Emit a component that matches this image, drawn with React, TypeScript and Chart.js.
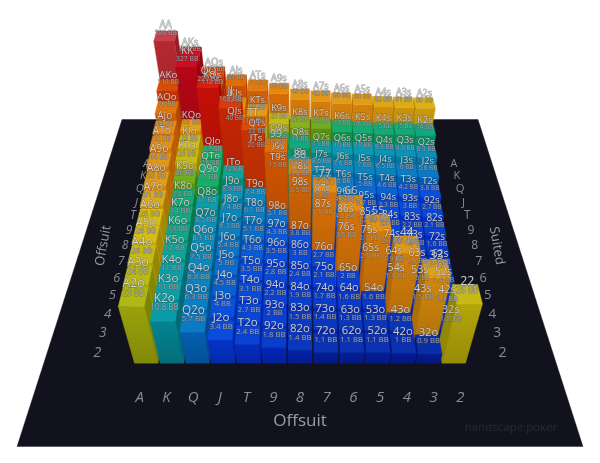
import React, { useEffect, useRef } from 'react';
import { Chart, registerables } from 'chart.js';

Chart.register(...registerables);

const RANKS = ['A', 'K', 'Q', 'J', 'T', '9', '8', '7', '6', '5', '4', '3', '2'];

// big blinds per hand, row = back to front, col = left to right
const ROW_A = [588, 300, 127, 89, 70, 60, 46, 42, 38, 36, 32, 31, 30];
const ROW_K = [118, 327, 118, 52, 38, 25, 21, 20, 17, 16, 15, 15, 14];
const ROW_Q = [76, 33, 229, 40, 22, 17, 14, 11, 10, 10, 9.3, 8.9, 8.3];
const ROW_J = [56, 28, 17, 168, 20, 13, 9.5, 8.6, 7.6, 7, 6.5, 6, 5.6];
const ROW_T = [52, 26, 16, 12, 118, 15, 9.5, 7.3, 6, 5, 4.6, 4.2, 3.8];
const ROW_9 = [44, 20, 17, 8.9, 7.4, 86, 8.5, 6, 4.9, 3.7, 3.3, 3, 2.7];
const ROW_8 = [36, 15, 11, 7.4, 6.1, 5.1, 66, 5.5, 4.2, 3.2, 2.6, 2.2, 2.1];
const ROW_7 = [31, 14, 8.5, 6.3, 5.1, 4.3, 3.8, 57, 3.5, 2.7, 2.1, 1.8, 1.6];
const ROW_6 = [28, 13, 8.1, 5.4, 4.3, 3.5, 3, 2.7, 53, 2.5, 1.9, 1.6, 1.4];
const ROW_5 = [28, 12, 7.5, 5, 3.5, 2.8, 2.4, 2.1, 2, 48, 1.9, 1.6, 1.4];
const ROW_4 = [26, 11, 6.8, 4.5, 3.1, 2.2, 1.9, 1.7, 1.6, 1.6, 41, 1.5, 1.3];
const ROW_3 = [24, 11, 6.3, 4, 2.7, 2, 1.5, 1.4, 1.3, 1.3, 1.2, 33, 1.2];
const ROW_2 = [23, 10.8, 5.7, 3.4, 2.4, 1.8, 1.4, 1.1, 1.1, 1.1, 1, 0.9, 26];
const BB_ROWS = [ROW_A, ROW_K, ROW_Q, ROW_J, ROW_T, ROW_9, ROW_8, ROW_7, ROW_6, ROW_5, ROW_4, ROW_3, ROW_2];

// value -> colour stops
const COLOR_BB = [0.9, 2, 4, 5.7, 10, 13, 17, 20, 23, 28, 33, 57, 66, 86, 118, 168, 229, 327, 588];
const COLOR_RGB = [
  [10, 46, 168], [10, 63, 208], [10, 80, 220], [10, 122, 196], [11, 152, 180], [15, 166, 140],
  [22, 174, 106], [111, 174, 34], [176, 184, 22], [214, 188, 20], [224, 160, 24], [230, 140, 18],
  [224, 128, 16], [224, 112, 8], [216, 76, 8], [215, 60, 12], [212, 32, 16], [200, 15, 40], [200, 64, 72],
];

// camera
const SIN_P = 0.698;
const COS_P = 0.716;
const CAM_H = 22.3;
const CAM_Z = 22.17;
const CAM_D = 31.44;
const FOCAL = 687;
const CENTER_Y = 235;
const BAR_HALF = 0.46;
const FLOOR_HALF = 10;

const project = (x: number, h: number, z: number) => {
  const depth = CAM_D - h * SIN_P - z * COS_P;
  const up = (h - CAM_H) * COS_P - (z - CAM_Z) * SIN_P;
  return { u: x / depth, v: up / depth, depth };
};

const barColor = (bb: number) => {
  let i = 0;
  while (i < COLOR_BB.length - 2 && bb > COLOR_BB[i + 1]) i++;
  const t = Math.min(1, Math.max(0, (Math.log(bb) - Math.log(COLOR_BB[i])) / (Math.log(COLOR_BB[i + 1]) - Math.log(COLOR_BB[i]))));
  return COLOR_RGB[i].map((v, k) => v + (COLOR_RGB[i + 1][k] - v) * t);
};
const shade = (rgb: number[], f: number, g = 1) => `rgb(${rgb.map(v => Math.round(255 * Math.pow(v / 255, g) * f)).join(',')})`;

const handName = (r: number, c: number) => {
  if (r === c) return RANKS[r] + RANKS[c];
  return r < c ? RANKS[r] + RANKS[c] + 's' : RANKS[c] + RANKS[r] + 'o';
};

// the height axis is compressed: log-like in bb
const barHeight = (bb: number) => 1.2 * Math.log(1 + bb / 1.4);

const board3d = {
  id: 'board3d',
  beforeDatasetsDraw(chart: any) {
    const { ctx, scales } = chart;
    const px = (x: number, h: number, z: number) => {
      const p = project(x, h, z);
      return [scales.x.getPixelForValue(p.u), scales.y.getPixelForValue(p.v)];
    };
    const poly = (pts: number[][], fill: any) => {
      ctx.beginPath();
      pts.forEach((p, i) => (i ? ctx.lineTo(p[0], p[1]) : ctx.moveTo(p[0], p[1])));
      ctx.closePath();
      ctx.fillStyle = fill;
      ctx.fill();
      ctx.strokeStyle = fill;
      ctx.lineWidth = 0.4;
      ctx.stroke();
    };
    const text = (t: string, x: number, y: number, font: string, color: string, rot = 0, outline = '') => {
      ctx.save();
      ctx.translate(x, y);
      ctx.rotate(rot);
      ctx.font = font;
      ctx.textAlign = 'center';
      ctx.textBaseline = 'middle';
      if (outline) {
        ctx.strokeStyle = outline;
        ctx.lineWidth = 0.8;
        ctx.strokeText(t, 0, 0);
      }
      ctx.fillStyle = color;
      ctx.fillText(t, 0, 0);
      ctx.restore();
    };

    ctx.save();
    // floor
    poly([px(-FLOOR_HALF, 0, -FLOOR_HALF), px(FLOOR_HALF, 0, -FLOOR_HALF), px(FLOOR_HALF, 0, FLOOR_HALF), px(-FLOOR_HALF, 0, FLOOR_HALF)], '#11121e');

    // axis ticks lying on the floor
    RANKS.forEach((rank, i) => {
      const w = i - 6;
      const scale = (z: number) => FOCAL / project(0, 0, z).depth;
      const [bx, by] = px(w, 0, 8);
      text(rank, bx, by, `italic ${(scale(8) * 0.56).toFixed(1)}px "Open Sans"`, '#8a8b92');
      const [lx, ly] = px(-8, 0, w);
      text(rank, lx, ly, `italic ${(scale(w) * 0.56).toFixed(1)}px "Open Sans"`, '#8a8b92');
      const [rx, ry] = px(8, 0, w);
      text(rank, rx, ry, `${(scale(w) * 0.56).toFixed(1)}px "Open Sans"`, '#8a8b92');
    });
    const [tx, ty] = px(0, 0, 9);
    text('Offsuit', tx, ty, '17px "Open Sans"', '#9c9da3');
    const [olx, oly] = px(-9, 0, 0);
    text('Offsuit', olx, oly, '13px "Open Sans"', '#9c9da3', -80 * Math.PI / 180);
    const [srx, sry] = px(9, 0, 0);
    text('Suited', srx, sry, '13px "Open Sans"', '#9c9da3', 80 * Math.PI / 180);

    // bars, far rows first, outer columns before inner ones
    const cells: { r: number; c: number; bb: number }[] = [];
    BB_ROWS.forEach((row, r) => row.forEach((bb, c) => cells.push({ r, c, bb })));
    cells.sort((a, b) => a.r - b.r || Math.abs(b.c - 6) - Math.abs(a.c - 6));

    cells.forEach(({ r, c, bb }) => {
      const x = c - 6, z = r - 6, h = barHeight(bb);
      const rgb = barColor(bb);
      const x0 = x - BAR_HALF, x1 = x + BAR_HALF, z0 = z - BAR_HALF, z1 = z + BAR_HALF;
      const sideX = x < 0 ? x1 : x0;
      if (x !== 0) {
        poly([px(sideX, 0, z0), px(sideX, 0, z1), px(sideX, h, z1), px(sideX, h, z0)], shade(rgb, 0.82, 1.4));
      }
      const topFront = px(x, h, z1), bottomFront = px(x, 0, z1);
      const grad = ctx.createLinearGradient(0, topFront[1], 0, bottomFront[1]);
      grad.addColorStop(0, shade(rgb, 0.97, 1.3));
      grad.addColorStop(1, shade(rgb, 0.82, 1.3));
      poly([px(x0, 0, z1), px(x1, 0, z1), px(x1, h, z1), px(x0, h, z1)], grad);
      poly([px(x0, h, z0), px(x1, h, z0), px(x1, h, z1), px(x0, h, z1)], shade(rgb, 1));
    });

    // hand labels always sit above the bars
    cells.forEach(({ r, c, bb }) => {
      const x = c - 6, z = r - 6, h = barHeight(bb);
      const p = project(x, h, z);
      const s = FOCAL / p.depth;
      const [lx, ly] = px(x, h, z);
      text(handName(r, c), lx, ly - s * 0.46, `${(s * 0.44).toFixed(1)}px "Open Sans"`, 'rgba(218,219,222,0.9)', 0, 'rgba(60,60,60,0.5)');
      text(`${bb} BB`, lx, ly - s * 0.13, `${(s * 0.3).toFixed(1)}px "Open Sans"`, 'rgba(178,180,186,0.85)', 0, 'rgba(60,60,60,0.45)');
    });

    text('handscape.poker', 511, 428, '11.5px "Open Sans"', '#292b36');
    ctx.restore();
  },
};

export default function App() {
  const canvasRef = useRef<HTMLCanvasElement>(null);

  useEffect(() => {
    document.body.style.margin = '0';
    if (!canvasRef.current) return;
    const tops = BB_ROWS.flatMap((row, r) => row.map((bb, c) => {
      const p = project(c - 6, barHeight(bb), r - 6);
      return { x: p.u, y: p.v };
    }));
    const chart = new Chart(canvasRef.current, {
      type: 'scatter',
      data: { datasets: [{ data: tops, pointRadius: 0 }] },
      options: {
        responsive: false,
        animation: false,
        layout: { padding: 0 },
        plugins: { legend: { display: false }, tooltip: { enabled: false } },
        scales: {
          x: { display: false, min: -300 / FOCAL, max: 300 / FOCAL },
          y: { display: false, min: (CENTER_Y - 463) / FOCAL, max: CENTER_Y / FOCAL },
        },
      },
      plugins: [board3d],
    });
    return () => chart.destroy();
  }, []);

  return <canvas ref={canvasRef} width={600} height={463} style={{ display: 'block' }} />;
}
